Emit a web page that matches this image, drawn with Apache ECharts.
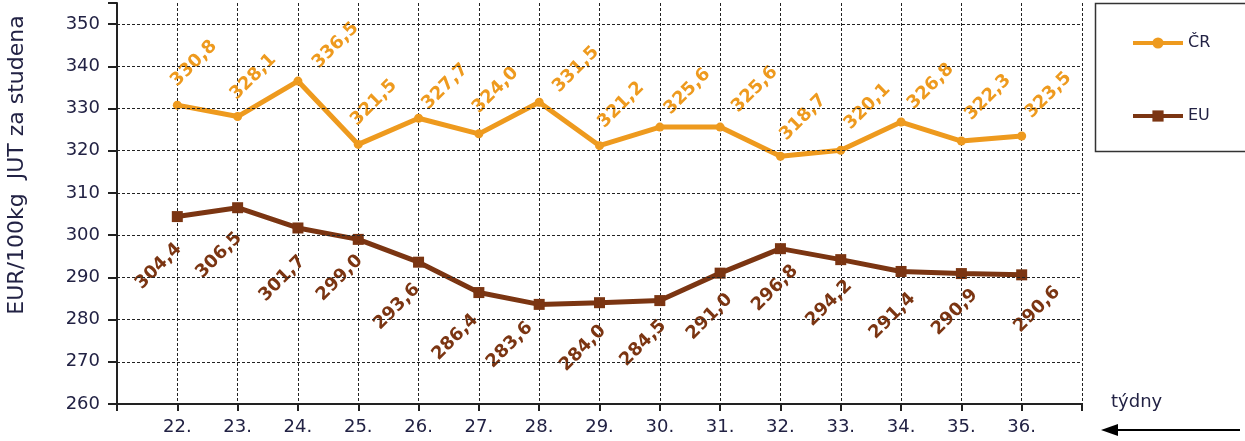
<!DOCTYPE html>
<html><head><meta charset="utf-8">
<script src="https://cdn.jsdelivr.net/npm/echarts@6/dist/echarts.min.js"></script>
<style>html,body{margin:0;padding:0;background:#fff}#c{width:1245px;height:441px}</style>
</head><body><div id="c"></div>
<script>
const categories = ['22.','23.','24.','25.','26.','27.','28.','29.','30.','31.','32.','33.','34.','35.','36.'];
const crValues = [330.8,328.1,336.5,321.5,327.7,324.0,331.5,321.2,325.6,325.6,318.7,320.1,326.8,322.3,323.5];
const euValues = [304.4,306.5,301.7,299.0,293.6,286.4,283.6,284.0,284.5,291.0,296.8,294.2,291.4,290.9,290.6];
const yTicks = [260,270,280,290,300,310,320,330,340,350];
const seriesNames = ['ČR','EU'];

// label nudges (styling only): where each rotated label sits relative to its point
const crLabelNudge = [[-8,-18],[-9,-16],[13,-12],[-9,-18],[2,-8],[-8,-20],[12,-9],[-3,-17],[3,-12],[10,-14],[-2,-15],[2,-20],[5,-12],[2,-20],[2,-17]];
const euLabelNudge = [[5,27],[5,25],[8,28],[5,16],[2,22],[0,22],[-6,18],[7,23],[7,20],[13,21],[18,17],[12,21],[15,22],[17,16],[39,12]];

const cats = [''].concat(categories, ['']);
const build = (vals, nudges, fx) => [null].concat(vals.map((v, i) => ({value: v, label: {position: fx(nudges[i])}})), [null]);
const fmt = p => p.value == null ? '' : p.value.toFixed(1).replace('.', ',');
const FONT = 'DejaVu Sans';
const TXT = '#222244';
const ORANGE = '#EE9A1E';
const BROWN = '#7B3512';

const chart = echarts.init(document.getElementById('c'));
chart.setOption({
  animation: false,
  textStyle: {fontFamily: FONT},
  grid: {left: 117, right: 163, top: 3, bottom: 37},
  xAxis: {
    type: 'category', boundaryGap: false, data: cats,
    axisLine: {lineStyle: {color: '#222', width: 2}},
    axisTick: {length: 7, lineStyle: {color: '#222', width: 2}, interval: 0},
    axisLabel: {interval: 0, fontSize: 18, color: TXT, margin: 14, fontFamily: FONT},
    splitLine: {show: true, interval: 0, lineStyle: {color: '#222', type: [3, 2], width: 1}}
  },
  yAxis: {
    type: 'value', min: yTicks[0], max: 355, interval: 10,
    axisLine: {show: true, lineStyle: {color: '#222', width: 2}},
    axisTick: {show: true, length: 9, lineStyle: {color: '#222', width: 2}},
    axisLabel: {fontSize: 18, color: TXT, margin: 17, fontFamily: FONT,
      formatter: v => yTicks.indexOf(v) >= 0 ? String(v) : ''},
    splitLine: {show: false}
  },
  legend: {
    left: 1131, top: 35, padding: 0, orient: 'vertical', itemGap: 57, itemWidth: 50, itemHeight: 14,
    lineStyle: {width: 4},
    textStyle: {fontSize: 16, color: TXT, fontFamily: FONT},
    data: seriesNames
  },
  graphic: [
    {type: 'rect', shape: {x: 1095.5, y: 3.5, width: 160, height: 148}, style: {fill: 'none', stroke: '#333', lineWidth: 1.5}},
    {type: 'text', x: 17, y: 165, rotation: Math.PI/2, style: {text: 'EUR/100kg  JUT za studena', fontSize: 22, fill: TXT, fontFamily: FONT, textAlign: 'center', textVerticalAlign: 'middle'}},
    {type: 'text', x: 1111, y: 402, style: {text: 'týdny', fontSize: 18, fill: TXT, fontFamily: FONT, textAlign: 'left', textVerticalAlign: 'middle'}},
    {type: 'line', shape: {x1: 1115, y1: 430, x2: 1240, y2: 430}, style: {stroke: '#000', lineWidth: 2}},
    {type: 'polygon', shape: {points: [[1101,430],[1118,424],[1118,436]]}, style: {fill: '#000'}}
  ],
  series: [
    {name: seriesNames[0], type: 'line', data: build(crValues, crLabelNudge, n => [n[0] + 9, n[1] + 1]),
      symbol: 'circle', symbolSize: 9,
      lineStyle: {color: ORANGE, width: 5}, itemStyle: {color: ORANGE},
      markLine: {silent: true, symbol: 'none', label: {show: false}, animation: false,
        lineStyle: {color: '#222', type: [3, 2], width: 1},
        data: yTicks.slice(1).map(v => ({yAxis: v}))},
      label: {show: true, rotate: 45, align: 'left', verticalAlign: 'middle',
        fontSize: 18, fontWeight: 'bold', color: ORANGE, fontFamily: FONT, formatter: fmt}},
    {name: seriesNames[1], type: 'line', data: build(euValues, euLabelNudge, n => [n[0] + 2, n[1] + 8]),
      symbol: 'rect', symbolSize: 11,
      lineStyle: {color: BROWN, width: 5}, itemStyle: {color: BROWN},
      label: {show: true, rotate: 45, align: 'right', verticalAlign: 'middle',
        fontSize: 18, fontWeight: 'bold', color: BROWN, fontFamily: FONT, formatter: fmt}}
  ]
});
</script></body></html>
